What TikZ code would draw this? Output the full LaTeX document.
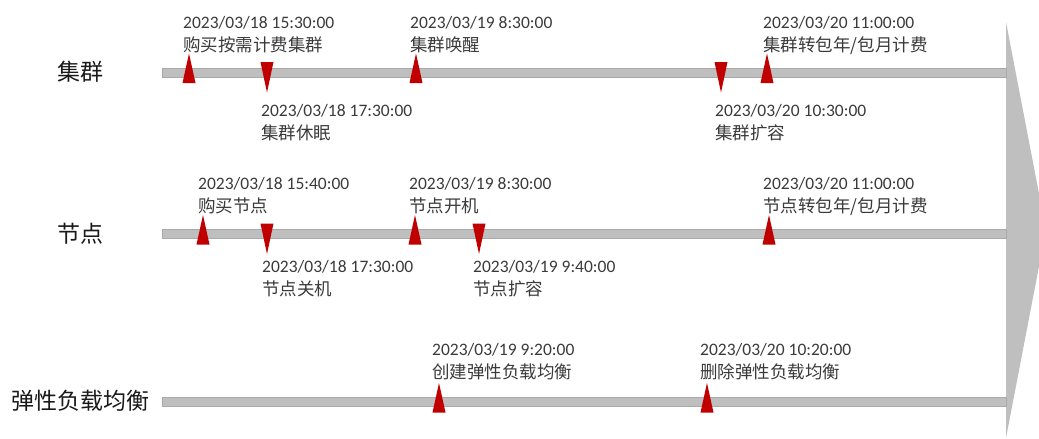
\documentclass[tikz,border=0pt]{standalone}
\usepackage{fontspec}
\setmainfont{Carlito}
\newfontfamily\cjk{Noto Sans CJK SC}
\usepackage{tikz}
\usetikzlibrary{positioning}

\definecolor{bargray}{HTML}{BFBFBF}
\definecolor{barline}{HTML}{A9A9A9}
\definecolor{markred}{HTML}{C00000}
\definecolor{labelgray}{HTML}{3A3A3A}

% markers on a bar: x, bar centre
\newcommand{\upmark}[2]{\fill[markred] (#1-6.5,#2+10.5) -- (#1,#2-19) -- (#1+6.5,#2+10.5) -- cycle;}
\newcommand{\downmark}[2]{\fill[markred] (#1-6.5,#2-10.5) -- (#1,#2+20) -- (#1+6.5,#2-10.5) -- cycle;}

\begin{document}
\begin{tikzpicture}[x=1pt,y=-1pt,
		evt/.style={anchor=base west, align=left, inner sep=0pt, text=labelgray, font=\fontsize{17.5}{23}\selectfont},
		rowlabel/.style={inner sep=0pt, text=black!90, font=\cjk\fontsize{23}{26}\selectfont},
		bar/.style={fill=bargray, draw=barline, line width=0.6pt}]
		\useasboundingbox (0,0) rectangle (1039,439);
		
		% big arrow on the right
		\fill[bargray] (1006,22) -- (1046,230) -- (1006,438) -- cycle;
		
		% the three bars
		\filldraw[bar] (162,67.8) rectangle (1006,77.2);
		\filldraw[bar] (162,229.3) rectangle (1006,238.7);
		\filldraw[bar] (162,397.3) rectangle (1006,406.7);
		
		\node[rowlabel] (cluster) at (80.5,72) {集群};
		\node[rowlabel] (node) at (80.5,234) {节点};
		\node[rowlabel] (elb) at (81,401) {弹性负载均衡};
		
		% cluster
		\upmark{189}{72.5}
		\node[evt] (c1) at (183,51) {2023/03/18 15:30:00\\{\cjk 购买按需计费集群}};
		\downmark{267}{72.5}
		\node[evt] (c2) at (261,139) {2023/03/18 17:30:00\\{\cjk 集群休眠}};
		\upmark{416}{72.5}
		\node[evt] (c3) at (410,51) {2023/03/19 8:30:00\\{\cjk 集群唤醒}};
		\downmark{721}{72.5}
		\node[evt] (c4) at (715,139) {2023/03/20 10:30:00\\{\cjk 集群扩容}};
		\upmark{767}{72.5}
		\node[evt] (c5) at (763,51) {2023/03/20 11:00:00\\{\cjk 集群转包年/包月计费}};
		
		% node
		\upmark{203}{234}
		\node[evt] (n1) at (198,212) {2023/03/18 15:40:00\\{\cjk 购买节点}};
		\downmark{267}{234}
		\node[evt] (n2) at (262,295) {2023/03/18 17:30:00\\{\cjk 节点关机}};
		\upmark{415}{234}
		\node[evt] (n3) at (409,212) {2023/03/19 8:30:00\\{\cjk 节点开机}};
		\downmark{479}{234}
		\node[evt] (n4) at (473,295) {2023/03/19 9:40:00\\{\cjk 节点扩容}};
		\upmark{769}{234}
		\node[evt] (n5) at (763,212) {2023/03/20 11:00:00\\{\cjk 节点转包年/包月计费}};
		
		% elastic load balancer
		\upmark{439}{402}
		\node[evt] (e1) at (432,378) {2023/03/19 9:20:00\\{\cjk 创建弹性负载均衡}};
		\upmark{707}{402}
		\node[evt] (e2) at (700,378) {2023/03/20 10:20:00\\{\cjk 删除弹性负载均衡}};
	\end{tikzpicture}
\end{document}
